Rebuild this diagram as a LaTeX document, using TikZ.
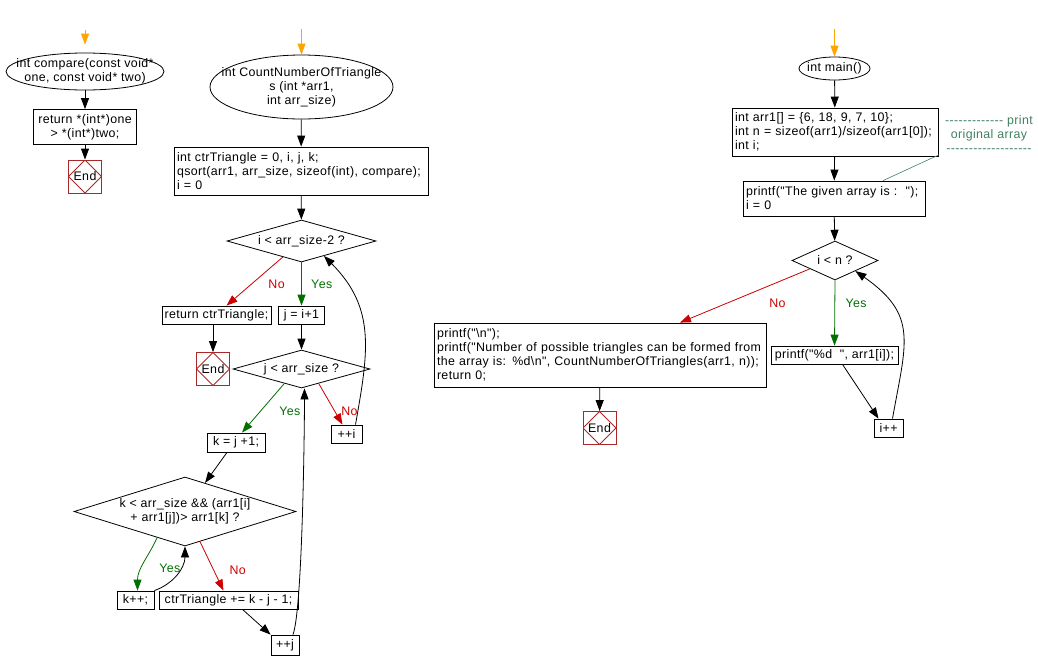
\documentclass[tikz,border=0pt]{standalone}
\usepackage{fontspec}
\setmainfont{Liberation Sans}[Ligatures=TeXOff,LetterSpace=3]
\usetikzlibrary{shapes.geometric,arrows.meta,calc,positioning}
\definecolor{startorange}{RGB}{255,165,0}
\definecolor{yesgreen}{RGB}{0,112,0}
\definecolor{nored}{RGB}{204,0,0}
\definecolor{endred}{RGB}{170,40,40}
\definecolor{noteteal}{RGB}{64,128,96}
\tikzset{
  box/.style={draw, inner sep=0pt, minimum height=18pt},
  code/.style={draw, inner xsep=3pt, inner ysep=0pt, align=left},
  start/.style={draw, ellipse, inner sep=0pt},
  cond/.style={draw, diamond, inner sep=0pt},
  stop/.style={draw=endred, minimum size=33pt, inner sep=0pt,
    path picture={\draw[endred] (path picture bounding box.north) -- (path picture bounding box.east)
      -- (path picture bounding box.south) -- (path picture bounding box.west) -- cycle;}},
  arr/.style={-{Triangle[length=11pt,width=8pt]}},
  yes/.style={arr, yesgreen},
  no/.style={arr, nored},
  entry/.style={arr, startorange}
}
\begin{document}
\begin{tikzpicture}[x=1pt,y=-1pt,line width=0.8pt,font=\fontsize{12.4pt}{14pt}\selectfont]
  \useasboundingbox (0,0) rectangle (1038,670);
  % compare
  \coordinate (cmptop) at (85,30);
  \node[start,minimum width=158pt,minimum height=37pt,
    label={[align=center]center:int compare(const void*\\one, const void* two)}] (cmpstart) at (85,71.5) {};
  \node[code,text width=97pt,minimum height=35pt,align=center] (cmpret) at (85,127) {return *(int*)one\\> *(int*)two;};
  \node[stop] (cmpend) at (85,176.5) {End};
  \draw[entry,shorten >=8pt] (cmptop) -- (cmpstart);
  \draw[arr] (cmpstart) -- (cmpret);
  \draw[arr] (cmpret) -- (cmpend);
  % CountNumberOfTriangles
  \coordinate (cnttop) at (301.5,29);
  \node[start,minimum width=183pt,minimum height=64pt,
    label={[align=center]center:int CountNumberOfTriangle\\s (int *arr1,\\int arr\_size)}] (cntstart) at (301.5,87) {};
  \node[code,text width=248pt,minimum height=48pt] (init) at (301,171)
    {int ctrTriangle = 0, i, j, k;\\qsort(arr1, arr\_size, sizeof(int), compare);\\i = 0};
  \node[cond,minimum width=149pt,minimum height=42pt,label={center:i < arr\_size-2 ?}] (d1) at (301.5,241) {};
  \node[box,minimum width=109pt] (retbox) at (216.5,315) {return ctrTriangle;};
  \node[box,minimum width=46pt] (jbox) at (301.5,315) {j = i+1};
  \node[stop] (end2) at (213,369) {End};
  \node[cond,minimum width=137pt,minimum height=38pt,label={center:j < arr\_size ?}] (d2) at (301.5,369) {};
  \node[box,minimum width=58pt,minimum height=19pt] (kbox) at (236,442.5) {k = j +1;};
  \node[box,minimum width=31pt] (inci) at (346.5,434) {++i};
  \node[cond,minimum width=222pt,minimum height=69pt,
    label={[align=center]center:k < arr\_size \&\& (arr1[i]\\+ arr1[j])> arr1[k] ?}] (d3) at (185,511.5) {};
  \node[box,minimum width=37pt] (kpp) at (135.5,600) {k++;};
  \node[box,minimum width=139pt] (ctrbox) at (228.5,600) {ctrTriangle += k - j - 1;};
  \node[box,minimum width=28pt,minimum height=20pt] (incj) at (285,645) {++j};
  \draw[entry] (cnttop) -- (cntstart);
  \draw[arr] (cntstart) -- (init);
  \draw[arr] (init) -- (d1);
  \draw[no] ($(d1.south)!.25!(d1.west)$) -- node[pos=.57,right=14pt]{No} ($(retbox.north)+(10,0)$);
  \draw[yes] (d1.south) -- node[pos=.5,right=6pt]{Yes} (jbox.north);
  \draw[arr] (end2 |- retbox.south) -- (end2.north);
  \draw[arr] (jbox) -- (d2);
  \draw[yes] ($(d2.south)!.25!(d2.west)$) -- node[pos=.56,right=15pt]{Yes} ($(kbox.north)+(6,0)$);
  \draw[no] ($(d2.south)!.25!(d2.east)$) -- node[pos=.67,right=3pt]{No} ($(inci.north)+(-4,0)$);
  \draw[arr] ($(inci.north)+(9,0)$) to[out=80,in=-45,looseness=1.1] ($(d1.south)!.3!(d1.east)$);
  \draw[arr] ($(kbox.south)+(-9,0)$) -- ($(d3.north)!.18!(d3.east)$);
  \draw[yes] ($(d3.south)!.25!(d3.west)$) to[out=-115,in=90] node[pos=.6,right=14pt]{Yes} ($(kpp.north)+(2,0)$);
  \draw[no] ($(d3.south)!.135!(d3.east)$) -- node[pos=.59,right=12pt]{No} ($(ctrbox.north)+(-5,0)$);
  \draw[arr] (kpp.north east) to[out=20,in=-90] (d3.south);
  \draw[arr] ($(ctrbox.south)+(14,0)$) -- (incj.north west);
  \draw[arr] ($(incj.north)+(8,0)$) to[out=70,in=-90,looseness=.3] ($(d2.south)+(3,0)$);
  % main
  \coordinate (maintop) at (834.5,29);
  \node[start,minimum width=71pt,minimum height=23pt,label={center:int main()}] (mainstart) at (834.5,68.5) {};
  \node[code,text width=200pt,minimum height=48pt] (arrbox) at (835,132)
    {int arr1[] = \{6, 18, 9, 7, 10\};\\int n = sizeof(arr1)/sizeof(arr1[0]);\\int i;};
  \node[align=center,noteteal,inner sep=0pt] (cmt) at (989,134) {------------- print\\original array\\-------------------};
  \node[code,text width=176pt,minimum height=35pt] (givbox) at (834,198.5) {printf("The given array is :\ \ ");\\i = 0};
  \node[cond,minimum width=86pt,minimum height=39pt,label={center:i < n ?}] (d4) at (835,260.5) {};
  \node[box,minimum width=127pt] (prbox) at (834.5,355) {printf("\%d\ \ ", arr1[i]);};
  \node[box,minimum width=29pt] (ipp) at (888.5,428) {i++};
  \node[code,text width=326pt,minimum height=64pt] (bigbox) at (600,355)
    {printf("\textbackslash n");\\printf("Number of possible triangles can be formed from\\the array is: \%d\textbackslash n", CountNumberOfTriangles(arr1, n));\\return 0;};
  \node[stop] (end3) at (599.5,428) {End};
  \draw[entry] (maintop) -- (mainstart);
  \draw[arr] (mainstart) -- (arrbox);
  \draw[arr] (arrbox) -- (givbox);
  \draw[noteteal,line width=0.6pt] ($(cmt.south west)+(-6,2)$) -- ($(givbox.north)+(49,0)$);
  \draw[arr] (givbox) -- (d4);
  \draw[no] ($(d4.south)!.58!(d4.west)$) -- node[pos=.25,below=13pt]{No} ($(bigbox.north)+(80,0)$);
  \draw[yes] (d4.south) -- node[pos=.35,right=7pt]{Yes} (prbox.north);
  \draw[arr] ($(prbox.south)+(8,0)$) -- ($(ipp.north)+(-10,0)$);
  \draw[arr] ($(ipp.north)+(4,0)$) to[out=80,in=-35,looseness=1.3] ($(d4.south)!.47!(d4.east)$);
  \draw[arr] (bigbox) -- (end3);
\end{tikzpicture}
\end{document}
